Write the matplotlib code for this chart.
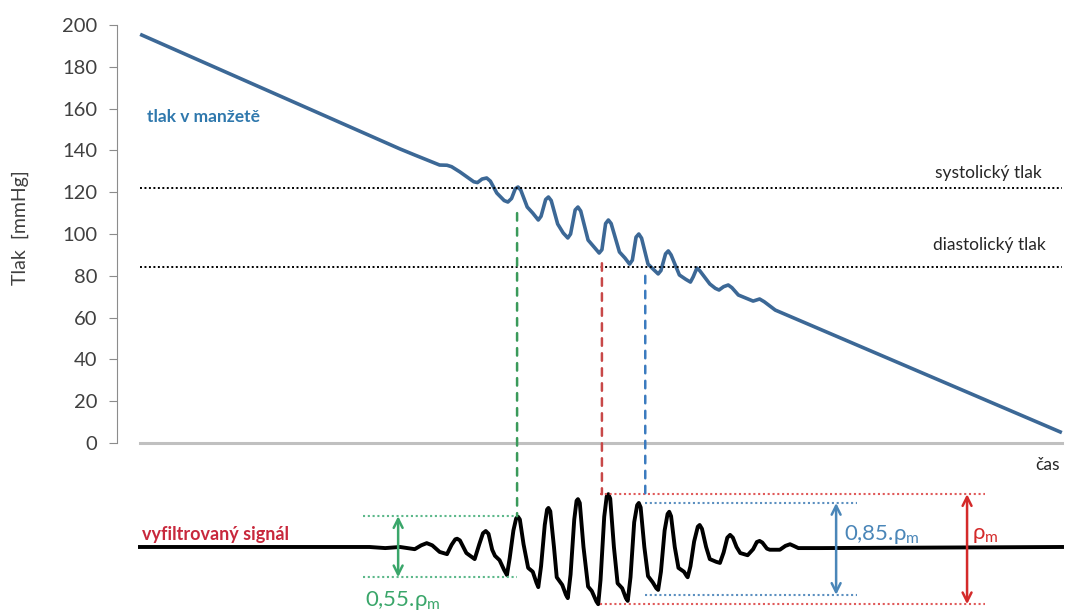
import matplotlib.pyplot as plt
from matplotlib.patches import ConnectionPatch

plt.rcParams['font.family'] = ['Lato', 'DejaVu Sans']
plt.rcParams['mathtext.fontset'] = 'custom'
plt.rcParams['mathtext.rm'] = 'Lato'

####################### Données ##########################################

# tlak v manžetě (čas v relativních jednotkách 0-100, tlak v mmHg)
cas_tlak = [0.2, 28.2, 29.8, 32.5, 33.3, 33.8, 34.7, 36.2, 36.6, 37.1, 37.6, 38.0,
            38.7, 39.5, 39.9, 40.3, 40.7, 41.0, 41.3, 42.0, 42.6, 43.2, 43.5, 44.0,
            44.3, 44.6, 45.3, 45.9, 46.4, 46.7, 47.2, 47.5, 47.8, 48.6, 49.3, 49.8,
            50.1, 50.5, 50.8, 51.1, 52.0, 52.6, 53.1, 53.4, 53.8, 54.1, 54.4, 55.1,
            55.7, 56.2, 56.5, 57.0, 57.3, 57.6, 58.5, 59.2, 59.7, 60.0, 60.4, 60.7,
            61.8, 62.4, 62.8, 63.3, 63.8, 64.2, 64.9, 66.5, 67.2, 67.7, 68.9, 99.8]
tlak = [195.2, 140.7, 137.8, 133.0, 132.9, 132.2, 129.7, 125.0, 124.6, 126.3, 126.8, 125.3,
        119.6, 116.0, 115.3, 117.0, 121.6, 122.5, 121.0, 112.9, 110.0, 106.7, 108.5, 116.5,
        117.7, 116.0, 104.8, 100.5, 98.1, 100.0, 111.5, 112.9, 111.0, 97.1, 93.5, 90.9,
        92.5, 105.0, 106.7, 105.0, 91.4, 88.5, 85.6, 87.5, 98.5, 100.0, 98.0, 85.6,
        83.0, 80.9, 82.5, 90.5, 91.9, 90.0, 80.4, 78.3, 77.0, 79.5, 83.7, 82.5,
        76.1, 74.0, 73.2, 74.8, 75.6, 74.3, 70.8, 67.9, 68.9, 67.6, 63.6, 5.3]

# vyfiltrovaný signál (relativní amplituda)
cas_signal = [0.0, 24.9, 26.6, 28.2, 29.8,
              30.5, 31.1, 31.7, 32.5, 33.3,
              33.8, 34.2, 34.4, 34.7, 35.4, 36.3,
              36.8, 37.2, 37.5, 37.8, 38.2, 38.5, 39.0, 39.5, 39.8,
              40.1, 40.5, 40.8, 41.0, 41.2, 41.6, 42.1, 42.6, 43.0, 43.2,
              43.5, 43.9, 44.15, 44.3, 44.5, 44.9, 45.2, 45.8, 46.2, 46.4,
              46.7, 47.1, 47.35, 47.5, 47.7, 48.1, 48.6, 49.0, 49.5, 49.7,
              49.95, 50.35, 50.62, 50.8, 51.0, 51.4, 51.8, 52.3, 52.7, 52.9,
              53.2, 53.6, 53.92, 54.1, 54.3, 54.7, 55.1, 55.6, 56.0, 56.2,
              56.5, 56.9, 57.22, 57.4, 57.6, 58.0, 58.4, 59.0, 59.3, 59.4,
              59.7, 60.1, 60.5, 60.7, 60.95, 61.4, 61.8, 62.5, 62.9,
              63.3, 63.7, 64.0, 64.3, 64.7, 65.1, 65.9,
              66.5, 66.9, 67.2, 67.5, 68.0, 68.3, 69.4,
              70.0, 70.5, 70.9, 71.4, 73.8, 100.0]
signal = [0.0, 0.0, -0.02, 0.0, -0.04,
          0.03, 0.07, 0.03, -0.09, -0.13,
          0.04, 0.14, 0.15, 0.12, -0.11, -0.22,
          0.05, 0.25, 0.29, 0.24, -0.05, -0.16, -0.24, -0.42, -0.51,
          -0.20, 0.30, 0.52, 0.55, 0.50, 0.05, -0.38, -0.45, -0.65, -0.73,
          -0.35, 0.40, 0.68, 0.71, 0.65, 0.0, -0.55, -0.69, -0.87, -0.93,
          -0.50, 0.50, 0.84, 0.87, 0.80, 0.0, -0.72, -0.80, -0.99, -1.04,
          -0.60, 0.55, 0.92, 0.96, 0.88, 0.0, -0.66, -0.75, -0.93, -0.98,
          -0.55, 0.45, 0.76, 0.80, 0.72, 0.0, -0.53, -0.64, -0.75, -0.78,
          -0.45, 0.30, 0.60, 0.64, 0.56, 0.0, -0.38, -0.45, -0.53, -0.55,
          -0.35, 0.10, 0.37, 0.40, 0.33, 0.0, -0.22, -0.27, -0.29,
          -0.10, 0.17, 0.22, 0.17, 0.0, -0.11, -0.15,
          -0.04, 0.09, 0.11, 0.08, -0.03, -0.05, -0.05,
          0.02, 0.05, 0.02, -0.02, -0.02, 0.0]

systolicky = 122
diastolicky = 84

# úrovně amplitud (horní, dolní) a rozsah v čase
uroven_055 = [0.56, -0.55]
uroven_085 = [0.80, -0.87]
uroven_max = [0.96, -1.04]
rozsah_055 = [24.2, 40.9]
rozsah_085 = [54.8, 77.8]
rozsah_max = [49.9, 91.6]

# svislé čárkované čáry: (čas, tlak nahoře, signál dole)
cas_055, tlak_055, sig_055 = 40.9, 110, 0.56
cas_max, tlak_max, sig_max = 50.1, 86, 0.96
cas_085, tlak_085, sig_085 = 54.8, 80, 0.96

####################### Graf #########################

W, H = 1066, 612
fig = plt.figure(figsize=(W / 100, H / 100), dpi=100)

x0 = -2.49
x1 = 100.43
ax = fig.add_axes([117 / W, (H - 443) / H, (W - 117) / W, 418 / H])
ax.set_xlim(x0, x1)
ax.set_ylim(0, 200)

ax2 = fig.add_axes([117 / W, 0, (W - 117) / W, 150 / H])
ax2.set_xlim(x0, x1)
ax2.set_ylim(-1.182, 1.545)
ax2.axis('off')

# osy
for s in ['top', 'right']:
    ax.spines[s].set_visible(False)
ax.spines['left'].set_color('#8c8c8c')
ax.spines['left'].set_bounds(0, 200)
ax.spines['bottom'].set_color('#c0c0c0')
ax.spines['bottom'].set_linewidth(2.2)
ax.spines['bottom'].set_bounds(0, 100)
ax.set_xticks([])
ax.set_yticks(range(0, 201, 20))
ax.tick_params(axis='y', length=6, color='#8c8c8c', labelsize=14.5, labelcolor='#404040', pad=8)
fig.text(20 / W, 1 - 228 / H, 'Tlak  [mmHg]', rotation=90, ha='center', va='center',
         fontsize=14, color='#404040')

# tlak v manžetě
ax.plot(cas_tlak, tlak, color='#3c6896', lw=2.6, solid_joinstyle='round')
ax.text(0.8, 156, 'tlak v manžetě', color='#2f78ad', fontsize=12.5, fontweight='bold',
        ha='left', va='center')

ax.hlines([systolicky, diastolicky], 0, 100, colors='k', linestyles=(0, (1, 1.3)), lw=1.4)
ax.text(97.8, 129, 'systolický tlak', ha='right', va='center', fontsize=12.5, color='#262626')
ax.text(98.2, 94.7, 'diastolický tlak', ha='right', va='center', fontsize=12.5, color='#262626')
ax.text(99.8, -10.5, 'čas', ha='right', va='center', fontsize=12.5, color='#262626', clip_on=False)

# vyfiltrovaný signál
ax2.plot(cas_signal, signal, color='black', lw=2.8, solid_joinstyle='round')
ax2.text(0.2, 0.08, 'vyfiltrovaný signál', color='#c8283c', fontsize=13, fontweight='bold',
         ha='left', va='bottom')

dot = (0, (1, 1.3))
ax2.hlines(uroven_055, rozsah_055[0], rozsah_055[1], colors='#5cb88a', linestyles=dot, lw=1.5)
ax2.hlines(uroven_085, rozsah_085[0], rozsah_085[1], colors='#5b8fc0', linestyles=dot, lw=1.5)
ax2.hlines(uroven_max, rozsah_max[0], rozsah_max[1], colors='#e05a5a', linestyles=dot, lw=1.5)

def sipka(x, y_hor, y_dol, barva):
    ax2.annotate('', xy=(x, y_hor), xytext=(x, y_dol),
                 arrowprops=dict(arrowstyle='<->', color=barva, lw=1.8,
                                 mutation_scale=16, shrinkA=0, shrinkB=0))

sipka(28.0, uroven_055[0], uroven_055[1], '#3aa66a')
sipka(75.5, uroven_085[0], uroven_085[1], '#4a86b8')
sipka(89.7, uroven_max[0], uroven_max[1], '#d42a2a')

ax2.text(24.4, -0.76, '0,55.ρ$_\\mathrm{m}$', color='#3aa66a', fontsize=16, ha='left', va='top')
ax2.text(76.4, 0.22, '0,85.ρ$_\\mathrm{m}$', color='#4a86b8', fontsize=16, ha='left', va='center')
ax2.text(90.2, 0.22, 'ρ$_\\mathrm{m}$', color='#d42a2a', fontsize=16, ha='left', va='center')

# svislé spojnice mezi oběma grafy
for c, p, s, barva in [(cas_055, tlak_055, sig_055, '#3a9a5a'),
                       (cas_max, tlak_max, sig_max, '#c84848'),
                       (cas_085, tlak_085, sig_085, '#3b7bbf')]:
    con = ConnectionPatch(xyA=(c, p), coordsA='data', axesA=ax,
                          xyB=(c, s), coordsB='data', axesB=ax2,
                          color=barva, lw=1.8, linestyle=(0, (3, 3)))
    fig.add_artist(con)

fig.savefig('out.png', dpi=100)
